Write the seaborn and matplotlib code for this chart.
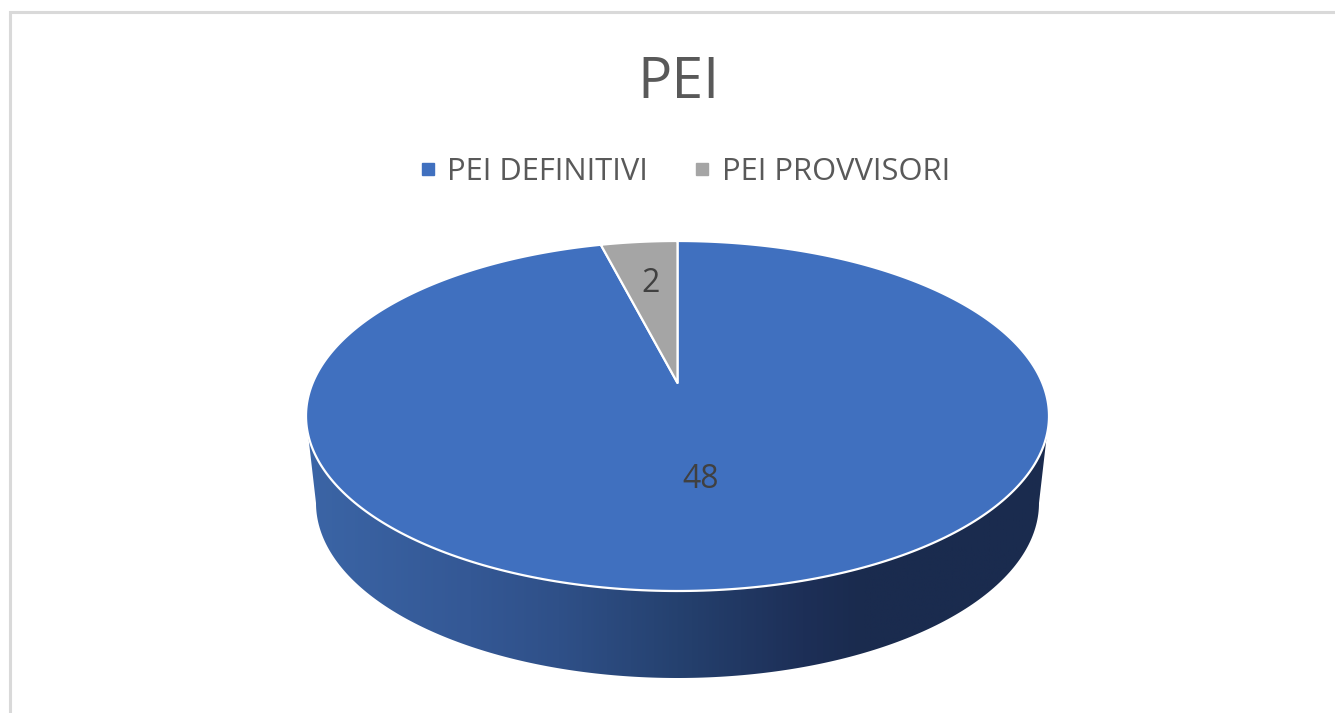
import numpy as np
import seaborn as sns
import matplotlib
matplotlib.use('Agg')
import matplotlib.pyplot as plt
from matplotlib.colors import LinearSegmentedColormap
from matplotlib.lines import Line2D
from matplotlib.patches import Polygon

categories = ['PEI DEFINITIVI', 'PEI PROVVISORI']
values = [48, 2]
chart_title = 'PEI'
colors = ['#4070BF', '#A5A5A5']

sns.set_theme(style='white')
plt.rcParams['font.family'] = ['Open Sans', 'DejaVu Sans']

W, H = 1335, 713
fig = plt.figure(figsize=(W / 100, H / 100), dpi=100, facecolor='white')

# pixel axes behind everything: frame and the side of the pie
bg = fig.add_axes([0, 0, 1, 1])
bg.axis('off')
bg.plot([9.5, 9.5, W], [H, 11.5, 11.5], color='#D9D9D9', lw=2.2, solid_joinstyle='miter')

# side of the pie, gradient clipped on lower ellipse + the wall above it
side_cmap = LinearSegmentedColormap.from_list('side', [
    (0.0, '#3B65A6'), (0.22, '#345895'), (0.34, '#2F5088'), (0.5, '#25416F'),
    (0.67, '#1D2F57'), (0.75, '#1A2B4E'), (1.0, '#1A2B4E')])
grad = np.linspace(0, 1, 512).reshape(1, -1)
im = bg.imshow(grad, cmap=side_cmap, extent=[306, 1049, 690, 410], aspect='auto', zorder=2)
bg.set_xlim(0, W)
bg.set_ylim(H, 0)
t = np.linspace(np.pi, 0, 200)
low_x = 677.5 + 361.5 * np.cos(t)
low_y = 503 + 175 * np.sin(t)
xs = np.r_[307, low_x, 1048]
ys = np.r_[425, low_y, 425]
clip = Polygon(np.c_[xs, ys], closed=True, transform=bg.transData, fc='none', ec='none')
bg.add_patch(clip)
im.set_clip_path(clip)

# top face
ax = fig.add_axes([306 / W, 1 - 591 / H, 743 / W, 350 / H])
wedges, _ = ax.pie(values, colors=colors, startangle=90, counterclock=False, radius=1)
ax.set_aspect('auto')
ax.set_xlim(-1, 1)
ax.set_ylim(-1, 1)

# perspective: the pie centre sits higher than the middle of the ellipse
b = 0.189
for w in wedges:
    th = np.radians(np.linspace(w.theta1, w.theta2, 400))
    x = np.r_[0, np.cos(th)]
    y = np.r_[0, np.sin(th)]
    d = 1 + b * y
    px = x * np.sqrt(1 - b ** 2) / d
    py = (y + b) / d
    c = w.get_facecolor()
    w.remove()
    ax.add_patch(Polygon(np.c_[px, py], closed=True, fc=c, ec='white', lw=1.6,
                         joinstyle='round', clip_on=False))

# value labels
label_pos = [(701, 479), (651, 283)]
for v, (lx, ly) in zip(values, label_pos):
    fig.text(lx / W, 1 - ly / H, str(v), ha='center', va='center', fontsize=23, color='#404040')

fig.text(678 / W, 1 - 83 / H, chart_title, ha='center', va='center', fontsize=41, color='#595959')

handles = [Line2D([], [], marker='s', ls='none', color=c, ms=8.5) for c in colors]
fig.legend(handles, categories, loc='center', bbox_to_anchor=(685 / W, 1 - 172 / H), ncol=2,
           frameon=False, fontsize=22.2, labelcolor='#595959', handlelength=0.5,
           handletextpad=0.38, columnspacing=1.5)

fig.savefig('out.png', dpi=100)
